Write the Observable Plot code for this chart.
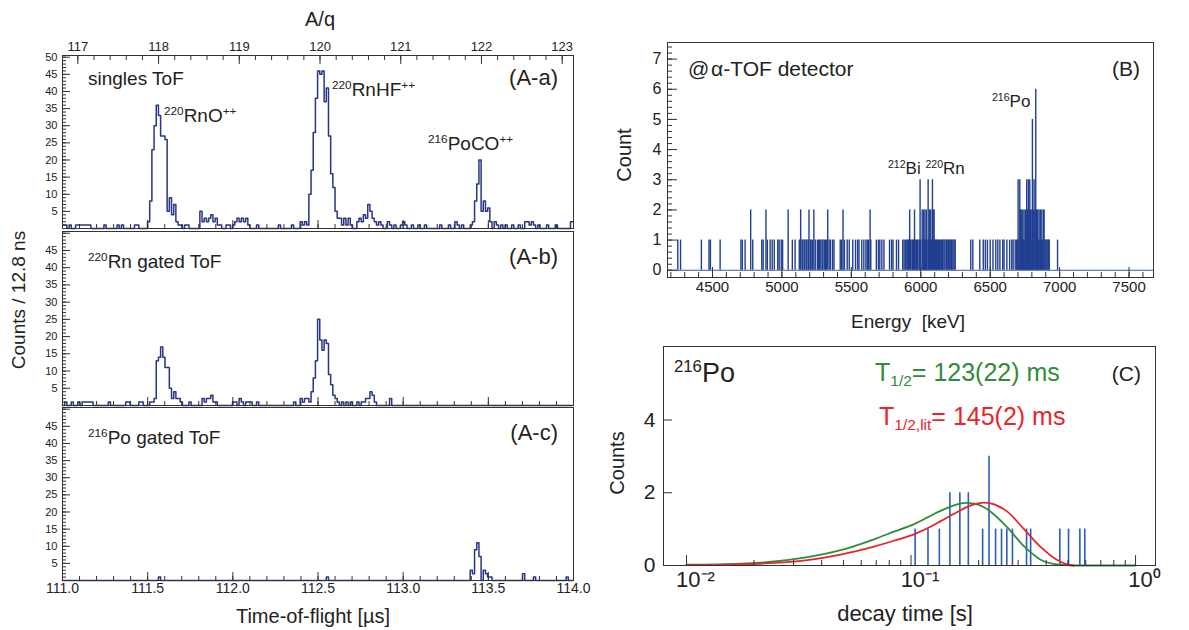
<!DOCTYPE html>
<html><head><meta charset="utf-8">
<script src="https://cdn.jsdelivr.net/npm/d3@7"></script>
<script src="https://cdn.jsdelivr.net/npm/@observablehq/plot@0.6"></script>
<style>
body{margin:0;background:#fff;}
#wrap{position:relative;width:1189px;height:630px;overflow:hidden;font-family:"Liberation Sans",Arial,Helvetica,sans-serif;color:#222;}
#wrap svg{position:absolute;left:0;top:0;overflow:visible;background:transparent;}
.lbl{position:absolute;white-space:nowrap;line-height:1;}
.lbl sup{font-size:.62em;vertical-align:baseline;position:relative;top:-.6em;}
.lbl sub{font-size:.62em;vertical-align:baseline;position:relative;top:.3em;}
</style></head><body><div id="wrap"></div>
<script>
// ---------------- DATA ----------------
// ToF histograms: 12.8 ns bins starting at 111.0 µs, given as [bin index, counts]
const tofStart = 111.0;
const tofBinWidth = 0.0128;
const tofNBins = 234;
const singlesToF = [[0,1],[1,1],[3,1],[6,1],[7,1],[8,1],[9,1],[10,1],[11,1],[12,1],[19,1],[25,1],[27,1],[33,1],[34,1],
 [39,2],[40,8],[41,23],[42,30],[43,36],[44,33],[45,27],[46,27],[47,26],[48,5],[49,9],[50,4],[51,7],[52,2],[53,1],[54,1],[56,1],[57,1],
 [63,5],[64,2],[65,3],[66,2],[67,3],[68,4],[69,2],[70,3],[71,1],[72,1],[75,1],[76,1],[78,1],[79,2],[80,3],[81,2],[82,3],[83,2],[84,3],[85,1],
 [89,1],[99,1],[105,1],[109,2],[110,1],[111,2],[112,1],
 [113,10],[114,17],[115,28],[116,38],[117,46],[118,45],[119,46],[120,37],[121,41],[122,27],[123,16],[124,12],[125,5],[126,3],[127,3],[128,1],[129,3],[130,1],[131,3],[132,1],
 [135,2],[136,3],[137,2],[138,4],[139,3],[140,7],[141,5],[142,3],[143,2],[144,1],[145,2],[146,1],[149,2],[150,1],[152,1],[155,1],[156,2],[157,1],[160,1],[163,1],[166,1],[173,1],[177,1],[180,2],[181,1],[183,1],
 [187,1],[188,2],[189,8],[190,13],[191,20],[192,5],[193,8],[194,5],[195,6],[196,2],[198,2],[199,1],[201,1],[203,1],[206,1],[209,1],[212,2],[213,2],[214,1],[215,2],[216,1],[218,1],[222,1],[226,1],[233,2]];
const rnGatedToF = [[1,1],[4,1],[7,1],[9,1],[10,1],[11,1],[12,1],[13,1],[21,1],[29,1],[30,1],[35,1],[36,1],[40,1],[41,1],[42,2],
 [43,13],[44,14],[45,17],[46,14],[47,11],[48,11],[49,5],[50,2],[51,4],[52,2],[53,2],[54,1],[58,1],
 [64,2],[65,1],[66,2],[67,2],[68,3],[69,1],[70,1],[78,1],[79,1],[81,2],[82,1],[84,1],[85,1],[86,1],[89,1],
 [106,1],[109,2],[110,1],[111,2],[112,2],[113,1],[114,4],[115,8],[116,13],[117,25],[118,19],[119,16],[120,19],[121,18],[122,9],[123,6],[124,3],[125,2],[126,1],
 [128,1],[130,1],[132,1],[135,1],[137,1],[138,1],[139,2],[140,2],[141,4],[142,3],[143,1],[150,2]];
const poGatedToF = [[44,1],[121,1],[187,3],[188,2],[189,9],[190,11],[191,7],[193,3],[194,2],[195,1],[196,1],[211,2],[216,1],[231,1]];

// alpha energy spectrum: [energy keV, counts]
const alphaSpectrum = [[4250,1],[4270,1],[4420,1],[4475,1],[4485,1],[4555,1],[4705,1],[4715,1],[4735,1],[4775,2],[4790,1],[4855,1],[4865,1],[4885,2],[4895,1],[4915,1],[4930,1],[4945,1],[4970,1],[4980,1],[4995,1],[5005,1],[5045,2],[5075,1],[5095,1],[5125,1],[5135,2],[5145,1],[5150,1],[5160,1],[5165,1],[5175,1],[5180,1],[5190,1],[5195,2],[5205,1],[5210,1],[5220,1],[5230,2],[5240,1],[5255,1],[5265,1],[5270,1],[5280,1],[5290,1],[5295,1],[5305,1],[5315,1],[5320,1],[5330,2],[5340,1],[5350,1],[5365,1],[5375,1],[5420,1],[5430,1],[5440,2],[5450,1],[5470,1],[5485,1],[5510,1],[5530,1],[5545,1],[5555,1],[5575,1],[5590,1],[5605,1],[5615,1],[5625,1],[5635,2],[5640,1],[5680,1],[5695,1],[5705,1],[5720,1],[5735,1],[5775,1],[5790,1],[5800,1],[5825,1],[5840,1],[5870,1],[5880,1],[5890,1],[5900,1],[5905,1],[5910,1],[5920,2],[5925,1],[5930,1],[5940,1],[5945,1],[5950,1],[5955,2],[5960,1],[5970,1],[5975,1],[5980,1],[5990,1],[5995,3],[6000,1],[6010,2],[6015,1],[6020,2],[6025,1],[6030,2],[6035,1],[6040,2],[6045,1],[6053,3],[6058,1],[6062,2],[6068,1],[6072,2],[6078,1],[6084,3],[6090,2],[6096,2],[6100,1],[6105,1],[6110,1],[6115,1],[6120,1],[6128,1],[6135,1],[6140,1],[6148,1],[6155,1],[6160,1],[6168,1],[6175,1],[6185,1],[6190,1],[6198,1],[6205,1],[6212,1],[6220,1],[6225,1],[6232,1],[6240,1],[6248,1],[6360,1],[6375,1],[6425,1],[6450,1],[6465,1],[6480,1],[6500,1],[6520,1],[6540,1],[6555,1],[6570,1],[6590,1],[6600,1],[6620,1],[6640,1],[6655,1],[6665,1],[6680,1],[6690,1],[6695,1],[6701,3],[6706,1],[6713,3],[6718,2],[6722,1],[6726,2],[6730,1],[6735,2],[6740,1],[6744,2],[6750,1],[6755,2],[6758,1],[6763,3],[6768,2],[6775,3],[6780,2],[6785,3],[6790,2],[6795,1],[6800,2],[6804,5],[6810,2],[6816,3],[6822,2],[6828,6],[6833,2],[6838,1],[6842,2],[6848,1],[6852,2],[6858,1],[6862,2],[6868,1],[6872,2],[6878,1],[6884,2],[6888,2],[6895,1],[6900,1],[6908,1],[6915,1],[6920,1],[6925,1],[6985,1]];

// decay-time spectrum: [time s, counts]
const decayCounts = [[0.1043,1],[0.119,1],[0.1337,1],[0.149,2],[0.165,2],[0.180,2],[0.2084,1],[0.2225,3],[0.238,1],[0.253,1],[0.267,1],[0.283,1],[0.327,1],[0.341,1],[0.460,1],[0.503,1],[0.565,1],[0.594,1]];
// fitted curves: [time s, counts]
const fitMeasured = [[0.01,0.02],[0.0175,0.05],[0.0246,0.11],[0.0346,0.23],[0.0486,0.42],[0.0684,0.72],[0.084,0.93],[0.1042,1.15],[0.119,1.33],[0.1355,1.5],[0.1608,1.68],[0.1751,1.72],[0.1907,1.70],[0.2113,1.6],[0.2263,1.48],[0.2684,1.05],[0.3184,0.53],[0.3776,0.16],[0.4479,0.03],[0.4963,0.01],[0.5314,0.0],[1.0,0.0]];
const fitLiterature = [[0.01,0.01],[0.0175,0.03],[0.0246,0.07],[0.0346,0.15],[0.0486,0.3],[0.0684,0.52],[0.084,0.68],[0.1042,0.87],[0.119,1.03],[0.1355,1.22],[0.1608,1.47],[0.1751,1.59],[0.1907,1.68],[0.2113,1.73],[0.2263,1.71],[0.2684,1.48],[0.3184,1.0],[0.3776,0.51],[0.4479,0.15],[0.4963,0.03],[0.5314,0.0]];

// tick labels
const tofTickLabels = [111.0,111.5,112.0,112.5,113.0,113.5,114.0];
const massTickLabels = [117,118,119,120,121,122,123];
const countTickLabels = [5,10,15,20,25,30,35,40,45];
const countTickLabelsTop = [5,10,15,20,25,30,35,40,45,50];
const energyTickLabels = [4500,5000,5500,6000,6500,7000,7500];
const alphaCountTickLabels = [0,1,2,3,4,5,6,7];
const decayTickLabels = [0.01,0.1,1];
const decayTickText = ["10\u207B\u00B2","10\u207B\u00B9","10\u2070"];
const decayCountTickLabels = [0,2,4];

// ---------------- LAYOUT ----------------
const W = 1189, H = 630;
const HIST = "#2a3585", BAR = "#213f91", DBAR = "#2c5cb6", GREEN = "#2f8c38", RED = "#e8252b", AX = "#333";
const wrap = document.getElementById("wrap");
const FONT = '"Liberation Sans", Arial, sans-serif';
const fmtInt = d3.format("d");
function base(box){
  return {width: W, height: H, marginLeft: box.x0, marginRight: W - box.x1, marginTop: box.y0, marginBottom: H - box.y1,
    style: {background: "transparent", overflow: "visible", fontFamily: FONT, color: "#222"}};
}
function add(p){ wrap.appendChild(p); return p; }
function lab(html, x, y, size, o = {}){
  const d = document.createElement("div");
  d.className = "lbl"; d.innerHTML = html;
  d.style.left = x + "px"; d.style.top = y + "px"; d.style.fontSize = size + "px";
  d.style.color = o.color || "#222";
  const tx = o.anchor === "middle" ? "-50%" : o.anchor === "end" ? "-100%" : "0";
  d.style.transform = `translate(${tx},-50%)` + (o.rotate ? ` rotate(${o.rotate}deg)` : "");
  wrap.appendChild(d);
}
function histPoints(sparse){
  const counts = new Array(tofNBins).fill(0);
  for (const [i, c] of sparse) counts[i] = c;
  const pts = [];
  counts.forEach((c, i) => { pts.push({t: tofStart + i * tofBinWidth, c}); pts.push({t: tofStart + (i + 1) * tofBinWidth, c}); });
  return pts;
}
const tofMinor = d3.range(1110, 1141).map(d => d / 10);
const countMinor = d3.range(0, 51);
const countMajor = d3.range(0, 51, 5);

function tofPanel(box, data, topLabels, bottomLabels){
  const w = box.x1 - box.x0, h = box.y1 - box.y0;
  const marks = [
    Plot.line(histPoints(data), {x: "t", y: "c", stroke: HIST, strokeWidth: 1.5}),
    Plot.tickY(countMinor, {y: d => d, insetRight: w - 4, stroke: AX}),
    Plot.tickY(countMajor, {y: d => d, insetRight: w - 8, stroke: AX}),
    Plot.tickX(tofMinor, {x: d => d, insetTop: h - 4, stroke: AX}),
    Plot.tickX(tofTickLabels, {x: d => d, insetTop: h - 8, stroke: AX}),
    Plot.axisY({ticks: topLabels, tickSize: 0, tickPadding: 5, fontSize: 11, tickFormat: fmtInt, label: null}),
    Plot.frame({stroke: AX})
  ];
  if (bottomLabels) marks.push(Plot.axisX({ticks: tofTickLabels, tickSize: 0, tickPadding: 3, fontSize: 14, tickFormat: d3.format(".1f"), label: null}));
  return add(Plot.plot({...base(box), x: {domain: [111, 114], axis: null}, y: {domain: [0, 50.5], axis: null}, marks}));
}
const boxAa = {x0: 62, x1: 573, y0: 55, y1: 228};
const boxAb = {x0: 62, x1: 573, y0: 231, y1: 405};
const boxAc = {x0: 62, x1: 573, y0: 407, y1: 580};
tofPanel(boxAa, singlesToF, countTickLabelsTop, false);
tofPanel(boxAb, rnGatedToF, countTickLabels, false);
tofPanel(boxAc, poGatedToF, countTickLabels, true);

// A/q top axis
add(Plot.plot({...base(boxAa), x: {domain: [116.81, 123.14], axis: null},
  marks: [
    Plot.tickX(d3.range(585, 616).map(d => d / 5), {x: d => d, insetBottom: (boxAa.y1 - boxAa.y0) - 5, stroke: AX}),
    Plot.tickX(massTickLabels, {x: d => d, insetBottom: (boxAa.y1 - boxAa.y0) - 9, stroke: AX}),
    Plot.axisX({anchor: "top", ticks: massTickLabels, tickSize: 0, tickPadding: 5, fontSize: 13, tickFormat: fmtInt, label: null})
  ]}));

// Panel B
const boxB = {x0: 667, x1: 1153, y0: 42, y1: 277};
add(Plot.plot({...base(boxB), x: {domain: [4176, 7676], axis: null}, y: {domain: [-0.24, 7.55], axis: null},
  marks: [
    Plot.ruleY([0], {stroke: "#3f5aa8", strokeWidth: 1}),
    Plot.ruleX(alphaSpectrum, {x: d => d[0], y1: 0, y2: d => d[1], stroke: BAR, strokeWidth: 1.4}),
    Plot.tickY(d3.range(0, 38).map(d => d / 5), {y: d => d, insetRight: (boxB.x1 - boxB.x0) - 5, stroke: AX}),
    Plot.tickY(alphaCountTickLabels, {y: d => d, insetRight: (boxB.x1 - boxB.x0) - 10, stroke: AX}),
    Plot.tickX(d3.range(42, 77).map(d => d * 100), {x: d => d, insetTop: (boxB.y1 - boxB.y0) - 5, stroke: AX}),
    Plot.tickX(energyTickLabels, {x: d => d, insetTop: (boxB.y1 - boxB.y0) - 10, stroke: AX}),
    Plot.axisY({ticks: alphaCountTickLabels, tickSize: 0, tickPadding: 6, fontSize: 16, tickFormat: fmtInt, label: null}),
    Plot.axisX({ticks: energyTickLabels, tickSize: 0, tickPadding: 4, fontSize: 15, tickFormat: fmtInt, label: null}),
    Plot.frame({stroke: AX})
  ]}));

// Panel C
const boxC = {x0: 663, x1: 1155, y0: 346, y1: 565};
const decayMinor = [0.02,0.03,0.04,0.05,0.06,0.07,0.08,0.09,0.2,0.3,0.4,0.5,0.6,0.7,0.8,0.9];
add(Plot.plot({...base(boxC), x: {type: "log", domain: [0.0079, 1.227], axis: null}, y: {domain: [0, 6.02], axis: null},
  marks: [
    Plot.ruleX(decayCounts, {x: d => d[0], y1: 0, y2: d => d[1], stroke: DBAR, strokeWidth: 1.6}),
    Plot.line(fitMeasured, {x: d => d[0], y: d => d[1], stroke: GREEN, strokeWidth: 1.8, curve: "monotone-x"}),
    Plot.line(fitLiterature, {x: d => d[0], y: d => d[1], stroke: RED, strokeWidth: 1.8, curve: "monotone-x"}),
    Plot.tickX(decayMinor, {x: d => d, insetTop: (boxC.y1 - boxC.y0) - 5, stroke: AX}),
    Plot.tickX(decayTickLabels, {x: d => d, insetTop: (boxC.y1 - boxC.y0) - 10, stroke: AX}),
    Plot.tickY(decayCountTickLabels, {y: d => d, insetRight: (boxC.x1 - boxC.x0) - 9, stroke: AX}),
    Plot.axisY({ticks: decayCountTickLabels, tickSize: 0, tickPadding: 8, fontSize: 21, tickFormat: fmtInt, label: null}),
    Plot.axisX({ticks: decayTickLabels, tickSize: 0, tickPadding: 6, dx: 9, fontSize: 22, tickFormat: d => decayTickText[decayTickLabels.indexOf(d)], label: null}),
    Plot.frame({stroke: AX})
  ]}));

// ---------------- TEXT ----------------
lab("A/q", 320, 19, 20, {anchor: "middle"});
lab("singles ToF", 88, 78, 19);
lab("(A-a)", 558, 78, 22, {anchor: "end"});
lab("<sup>220</sup>RnO<sup>++</sup>", 164, 115, 19);
lab("<sup>220</sup>RnHF<sup>++</sup>", 332, 89, 19);
lab("<sup>216</sup>PoCO<sup>++</sup>", 428, 143, 19);
lab("<sup>220</sup>Rn gated ToF", 88, 261, 19);
lab("(A-b)", 558, 257, 22, {anchor: "end"});
lab("<sup>216</sup>Po gated ToF", 88, 437, 19);
lab("(A-c)", 558, 433, 22, {anchor: "end"});
lab("Time-of-flight [µs]", 313, 616, 20, {anchor: "middle"});
lab("Counts / 12.8 ns", 18, 300, 19, {anchor: "middle", rotate: -90});

lab("@&#8202;α-TOF detector", 688, 68, 21);
lab("(B)", 1140, 68, 21, {anchor: "end"});
lab("<sup>216</sup>Po", 992, 101, 17);
lab("<sup>212</sup>Bi <sup>220</sup>Rn", 888, 168, 17);
lab("Energy&nbsp; [keV]", 908, 321, 19, {anchor: "middle"});
lab("Count", 624, 155, 20, {anchor: "middle", rotate: -90});

lab("<sup>216</sup>Po", 674, 373, 27);
lab("T<sub>1/2</sub>= 123(22) ms", 875, 372, 25, {color: GREEN});
lab("(C)", 1141, 373, 21, {anchor: "end"});
lab("T<sub>1/2,lit</sub>= 145(2) ms", 879, 416, 25, {color: RED});
lab("decay time [s]", 905, 614, 22, {anchor: "middle"});
lab("Counts", 617, 463, 20, {anchor: "middle", rotate: -90});
</script></body></html>
